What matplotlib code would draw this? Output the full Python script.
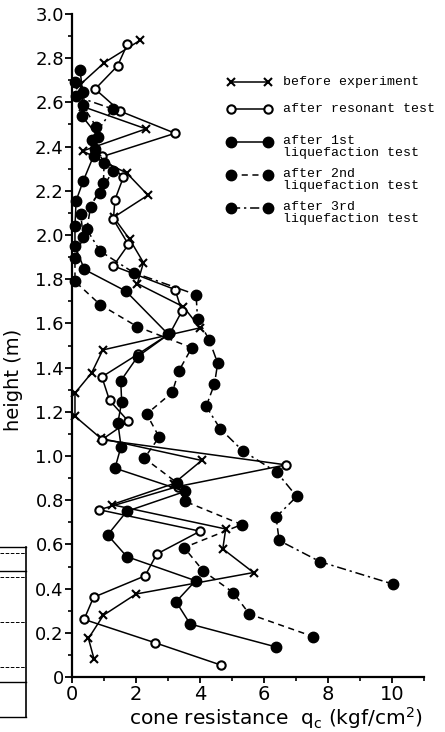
import matplotlib
matplotlib.use("Agg")
import matplotlib.pyplot as plt
from matplotlib.lines import Line2D
from matplotlib.ticker import MultipleLocator, FuncFormatter

# cone resistance qc (kgf/cm2) and height (m)
before_q = [2.12, 1.01, 0.25, 0.35, 2.31, 0.33, 1.71, 2.37, 1.30, 1.80, 2.23, 2.04, 3.48, 4.00,
            0.96, 0.61, 0.09, 0.09, 0.90, 4.05, 3.17, 1.24, 4.80, 4.71, 5.67, 2.00, 0.98, 0.51, 0.69]
before_h = [2.88, 2.78, 2.68, 2.58, 2.48, 2.38, 2.28, 2.18, 2.08, 1.98, 1.875, 1.78, 1.675, 1.58,
            1.48, 1.376, 1.285, 1.18, 1.08, 0.98, 0.875, 0.78, 0.67, 0.58, 0.473, 0.376, 0.28, 0.175, 0.08]

reson_q = [1.73, 1.42, 0.72, 1.50, 3.22, 0.95, 1.60, 1.34, 1.29, 1.76, 1.29, 3.22, 3.43, 3.06,
           2.05, 0.93, 1.17, 1.76, 0.93, 6.69, 3.30, 0.85, 4.00, 2.65, 2.28, 0.67, 0.375, 2.60, 4.66]
reson_h = [2.864, 2.765, 2.66, 2.56, 2.46, 2.355, 2.26, 2.16, 2.07, 1.957, 1.86, 1.753, 1.655, 1.555,
           1.46, 1.358, 1.252, 1.157, 1.074, 0.96, 0.862, 0.757, 0.66, 0.557, 0.458, 0.361, 0.261, 0.155, 0.054]

liq1_q = [0.25, 0.33, 0.30, 0.82, 0.67, 0.35, 0.125, 0.09, 0.09, 0.385, 1.68, 3.01, 2.05, 1.52,
          1.55, 1.43, 1.53, 1.34, 3.53, 1.71, 1.11, 1.71, 3.86, 3.25, 3.69, 6.36]
liq1_h = [2.745, 2.645, 2.54, 2.445, 2.357, 2.245, 2.155, 2.04, 1.95, 1.844, 1.746, 1.55, 1.45, 1.34,
          1.245, 1.15, 1.043, 0.945, 0.84, 0.75, 0.643, 0.545, 0.436, 0.341, 0.24, 0.137]

liq2_q = [0.09, 0.33, 0.75, 0.72, 1.27, 0.875, 0.27, 0.35, 0.09, 0.09, 0.875, 2.04, 3.74, 3.34,
          3.13, 2.33, 2.72, 2.26, 3.27, 3.53, 5.30, 3.50, 4.10, 5.04, 5.54, 7.54]
liq2_h = [2.69, 2.587, 2.49, 2.39, 2.29, 2.19, 2.093, 1.99, 1.897, 1.79, 1.685, 1.585, 1.49, 1.386,
          1.288, 1.19, 1.086, 0.99, 0.88, 0.795, 0.69, 0.586, 0.48, 0.382, 0.285, 0.183]

liq3_q = [0.125, 1.27, 0.61, 1.00, 0.98, 0.58, 0.46, 0.875, 1.92, 3.875, 3.92, 4.28, 4.55, 4.45,
          4.19, 4.625, 5.33, 6.40, 7.02, 6.375, 6.47, 7.75, 10.02]
liq3_h = [2.627, 2.57, 2.43, 2.327, 2.234, 2.128, 2.025, 1.927, 1.83, 1.73, 1.62, 1.527, 1.42, 1.326,
          1.225, 1.124, 1.024, 0.926, 0.817, 0.724, 0.618, 0.522, 0.421]

legend_labels = ["before experiment", "after resonant test", "after 1st\nliquefaction test",
                 "after 2nd\nliquefaction test", "after 3rd\nliquefaction test"]

fig = plt.figure(figsize=(4.45, 7.32), dpi=100)
ax = fig.add_axes([0.162, 0.075, 0.791, 0.906])

lw = 1.1
styles = [
    dict(marker="x", ms=6, mew=1.5, color="k", ls="-", lw=lw),
    dict(marker="o", ms=6, mew=1.5, mfc="white", mec="k", color="k", ls="-", lw=lw),
    dict(marker="o", ms=7.5, color="k", ls="-", lw=lw),
    dict(marker="o", ms=7.5, color="k", ls=(0, (4, 3)), lw=lw),
    dict(marker="o", ms=7.5, color="k", ls=(0, (6, 2.5, 1.5, 2.5)), lw=lw),
]
series = [(before_q, before_h), (reson_q, reson_h), (liq1_q, liq1_h),
          (liq2_q, liq2_h), (liq3_q, liq3_h)]
for (q, h), st in zip(series, styles):
    ax.plot(q, h, clip_on=False, **st)

ax.set_xlim(0, 11)
ax.set_ylim(0, 3.0)
for s in ["top", "right"]:
    ax.spines[s].set_visible(False)
for s in ["left", "bottom"]:
    ax.spines[s].set_linewidth(1.6)

ax.xaxis.set_major_locator(MultipleLocator(2))
ax.xaxis.set_minor_locator(MultipleLocator(1))
ax.yaxis.set_major_locator(MultipleLocator(0.2))
ax.yaxis.set_minor_locator(MultipleLocator(0.1))
ax.set_xticks([0, 2, 4, 6, 8, 10])
ax.yaxis.set_major_formatter(FuncFormatter(lambda v, p: "0" if abs(v) < 1e-9 else "%.1f" % v))
ax.tick_params(axis="y", which="major", length=5, width=1.3, labelsize=13, pad=1)
ax.tick_params(axis="y", which="minor", length=3, width=1.2)
ax.tick_params(axis="x", which="major", length=4, width=1.3, labelsize=14, pad=2)
ax.tick_params(axis="x", which="minor", length=3, width=1.2)

ax.set_ylabel("height (m)", fontsize=14)
ax.yaxis.set_label_coords(-0.14, 0.448)
ax.set_xlabel(r"cone resistance  $\mathregular{q_c}$ (kgf/cm$\mathregular{^2}$)", fontsize=14.5,
              va="center")
ax.xaxis.set_label_coords(0.58, -0.062)

# legend drawn by hand, pixel positions converted to figure fractions
W, H = 445.0, 732.0
rows_y = [82, 109, 142, 175, 208]
for st, lab, yy in zip(styles, legend_labels, rows_y):
    fig.add_artist(Line2D([231 / W, 268 / W], [1 - yy / H, 1 - yy / H],
                          transform=fig.transFigure, **st))
    if "\n" in lab:
        fig.text(283 / W, 1 - (yy - 7) / H, lab, fontsize=9.5, family="Liberation Mono",
                 va="top", ha="left", linespacing=1.05)
    else:
        fig.text(283 / W, 1 - yy / H, lab, fontsize=9.5, family="Liberation Mono",
                 va="center", ha="left")

# piece of the neighbouring figure cut off at the left edge
fig.add_artist(Line2D([26 / W, 26 / W], [1 - 547 / H, 1 - 717 / H], color="k", lw=1.2,
                      transform=fig.transFigure))
for yy, ls in [(547, "-"), (571, "-"), (682, "-"), (717, "-"), (553, "--"), (577, "--"),
               (622, "--"), (667, "--")]:
    fig.add_artist(Line2D([0, 26 / W], [1 - yy / H, 1 - yy / H], color="k",
                          lw=1.0 if ls == "-" else 0.7, ls=ls, transform=fig.transFigure))

fig.savefig("out.png", dpi=100)
